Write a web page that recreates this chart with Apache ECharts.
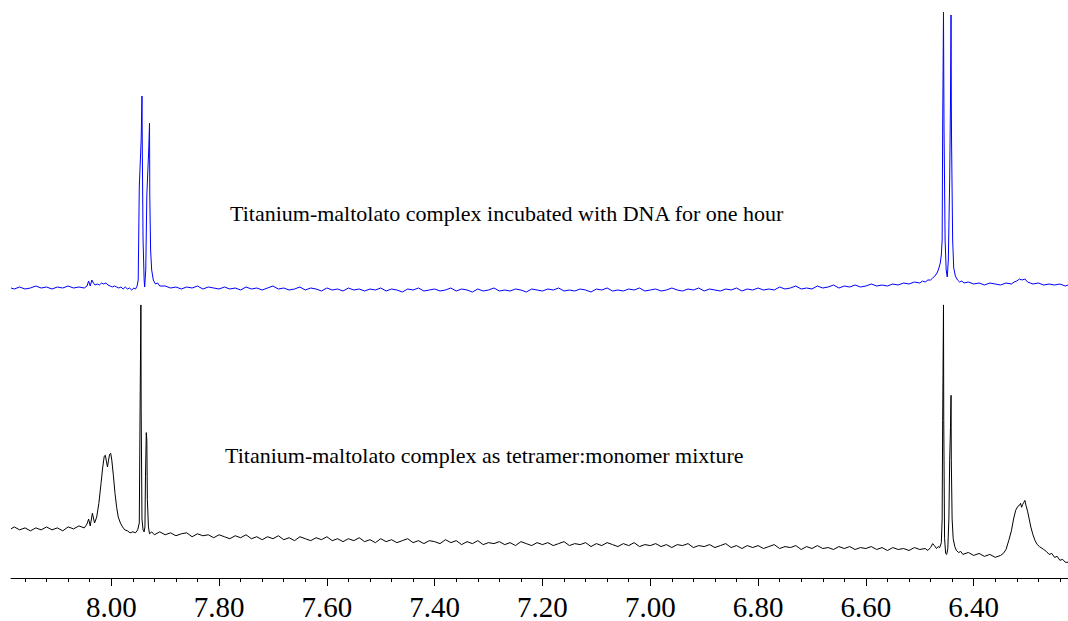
<!DOCTYPE html>
<html><head><meta charset="utf-8">
<script src="https://cdn.jsdelivr.net/npm/echarts@6/dist/echarts.min.js"></script>
<style>html,body{margin:0;padding:0;background:#fff}#c{width:1068px;height:621px}</style>
</head><body><div id="c"></div>
<script>
const xLeft = 8.186;
const xRight = 6.225;
const tickLabelValues = [8.0, 7.8, 7.6, 7.4, 7.2, 7.0, 6.8, 6.6, 6.4];
const minorTickValues = [8.16,8.12,8.08,8.04,7.96,7.92,7.88,7.84,7.76,7.72,7.68,7.64,7.56,7.52,7.48,7.44,7.36,7.32,7.28,7.24,7.16,7.12,7.08,7.04,6.96,6.92,6.88,6.84,6.76,6.72,6.68,6.64,6.56,6.52,6.48,6.44,6.36,6.32,6.28,6.24];
const blueLabel = 'Titanium-maltolato complex incubated with DNA for one hour';
const blackLabel = 'Titanium-maltolato complex as tetramer:monomer mixture';

const blueSpectrum = [
[8.186,12],[8.18,11],[8.17,13],[8.16,11],[8.15,12],[8.14,14],[8.13,12],[8.12,13],[8.11,11],[8.10,13],[8.09,12],[8.08,14],[8.07,12],[8.06,13],[8.05,12],
[8.045,14],[8.042,19],[8.039,14],[8.036,20],[8.033,17],[8.030,15],[8.026,16],[8.022,15],[8.018,17],[8.014,16],[8.010,17],[8.006,15],[8.002,14],[7.998,13],[7.994,14],[7.990,13],[7.986,12],[7.982,13],[7.978,11],[7.974,13],[7.970,11],[7.966,12],[7.962,10],[7.958,12],[7.955,11],[7.952,14],
[7.950,20],[7.948,113],[7.9445,160],[7.943,204],[7.9425,160],[7.941,60],[7.939,20],[7.938,13],[7.936,30],[7.934,105],[7.9305,150],[7.929,177],[7.9285,105],[7.927,50],[7.925,30],[7.922,20],[7.918,16],[7.914,17],[7.91,14],
[7.90,14],[7.89,12],[7.88,13],[7.87,11],[7.86,13],[7.85,12],[7.84,14],[7.83,11],[7.82,13],[7.81,12],[7.80,11],[7.79,13],[7.78,11],[7.77,12],[7.76,10],[7.75,13],[7.74,11],[7.73,12],[7.72,10],[7.71,12],
[7.70,14],[7.69,11],[7.68,12],[7.67,10],[7.66,11],[7.65,13],[7.64,10],[7.63,12],[7.62,11],[7.61,9],[7.60,12],[7.59,10],[7.58,11],[7.57,9],[7.56,12],[7.55,10],[7.54,11],[7.53,9],[7.52,11],[7.51,10],
[7.50,12],[7.49,9],[7.48,11],[7.47,10],[7.46,8],[7.45,11],[7.44,10],[7.43,12],[7.42,9],[7.41,10],[7.40,11],[7.39,9],[7.38,10],[7.37,12],[7.36,9],[7.35,11],[7.34,10],[7.33,8],[7.32,11],[7.31,9],
[7.30,10],[7.29,12],[7.28,9],[7.27,10],[7.26,9],[7.25,11],[7.24,10],[7.23,8],[7.22,11],[7.21,10],[7.20,9],[7.19,11],[7.18,10],[7.17,12],[7.16,9],[7.15,10],[7.14,9],[7.13,11],[7.12,10],[7.11,8],
[7.10,11],[7.09,10],[7.08,12],[7.07,9],[7.06,10],[7.05,9],[7.04,11],[7.03,10],[7.02,12],[7.01,9],[7.00,10],[6.99,11],[6.98,9],[6.97,10],[6.96,12],[6.95,10],[6.94,9],[6.93,11],[6.92,10],[6.91,12],
[6.90,9],[6.89,11],[6.88,10],[6.87,9],[6.86,11],[6.85,10],[6.84,12],[6.83,9],[6.82,11],[6.81,10],[6.80,12],[6.79,10],[6.78,11],[6.77,10],[6.76,13],[6.75,11],[6.74,12],[6.73,14],[6.72,11],[6.71,12],
[6.70,11],[6.69,14],[6.68,12],[6.67,13],[6.66,15],[6.65,12],[6.64,14],[6.63,13],[6.62,15],[6.61,13],[6.60,14],[6.59,16],[6.58,14],[6.57,15],[6.56,14],[6.55,16],[6.54,15],[6.53,17],[6.52,16],[6.51,18],
[6.50,17],[6.495,19],[6.49,18],[6.485,20],[6.48,20],[6.476,22],[6.472,24],[6.468,27],[6.465,31],[6.462,37],[6.460,45],[6.4585,60],[6.4575,172],[6.456,288],[6.4555,230],[6.455,172],[6.453,60],[6.451,30],[6.449,23],
[6.447,40],[6.4445,120],[6.443,200],[6.442,285],[6.4415,200],[6.441,158],[6.439,60],[6.437,32],[6.434,24],[6.430,20],[6.426,18],[6.422,19],[6.418,17],[6.41,18],[6.40,16],[6.39,17],[6.38,15],[6.37,17],[6.36,16],[6.35,15],
[6.34,17],[6.33,16],[6.325,18],[6.32,19],[6.315,21],[6.31,20],[6.305,21],[6.30,18],[6.295,17],[6.29,16],[6.28,17],[6.27,15],[6.26,16],[6.25,15],[6.24,16],[6.23,14],[6.225,15]
];

const blackSpectrum = [
[8.186,50],[8.18,52],[8.17,49],[8.16,51],[8.15,48],[8.14,51],[8.13,49],[8.12,52],[8.11,49],[8.10,51],[8.09,48],[8.08,52],[8.07,50],[8.06,53],[8.05,51],
[8.045,55],[8.042,60],[8.039,53],[8.035,66],[8.031,56],[8.027,62],[8.023,76],[8.019,96],[8.016,112],[8.013,124],[8.011,125],[8.009,119],[8.007,113],[8.005,120],[8.003,126],[8.001,127],[7.999,120],[7.996,104],[7.993,86],[7.990,72],[7.987,62],[7.983,56],[7.979,52],[7.975,49],[7.970,48],[7.965,46],[7.960,47],[7.955,46],
[7.951,49],[7.948,56],[7.9465,172],[7.945,278],[7.9445,172],[7.943,60],[7.941,49],[7.939,47],[7.9375,52],[7.9365,103],[7.935,148],[7.934,140],[7.933,80],[7.931,52],[7.929,45],[7.925,47],[7.92,44],
[7.91,47],[7.90,44],[7.89,46],[7.88,43],[7.87,45],[7.86,46],[7.85,42],[7.84,45],[7.83,43],[7.82,44],[7.81,41],[7.80,44],[7.79,42],[7.78,40],[7.77,43],[7.76,41],[7.75,44],[7.74,40],[7.73,42],[7.72,39],[7.71,42],
[7.70,40],[7.69,43],[7.68,39],[7.67,41],[7.66,38],[7.65,42],[7.64,40],[7.63,38],[7.62,41],[7.61,39],[7.60,42],[7.59,38],[7.58,40],[7.57,37],[7.56,40],[7.55,38],[7.54,41],[7.53,37],[7.52,39],[7.51,36],
[7.50,40],[7.49,37],[7.48,39],[7.47,36],[7.46,38],[7.45,40],[7.44,36],[7.43,38],[7.42,35],[7.41,38],[7.40,37],[7.39,35],[7.38,39],[7.37,36],[7.36,38],[7.35,34],[7.34,37],[7.33,35],[7.32,38],[7.31,34],
[7.30,36],[7.29,35],[7.28,37],[7.27,34],[7.26,36],[7.25,33],[7.24,37],[7.23,35],[7.22,33],[7.21,36],[7.20,34],[7.19,36],[7.18,33],[7.17,35],[7.16,37],[7.15,33],[7.14,35],[7.13,34],[7.12,36],[7.11,32],
[7.10,35],[7.09,33],[7.08,36],[7.07,34],[7.06,32],[7.05,35],[7.04,33],[7.03,36],[7.02,32],[7.01,34],[7.00,33],[6.99,35],[6.98,32],[6.97,34],[6.96,31],[6.95,34],[6.94,33],[6.93,35],[6.92,31],[6.91,33],
[6.90,32],[6.89,34],[6.88,31],[6.87,33],[6.86,35],[6.85,31],[6.84,33],[6.83,30],[6.82,33],[6.81,31],[6.80,33],[6.79,30],[6.78,32],[6.77,34],[6.76,30],[6.75,32],[6.74,31],[6.73,33],[6.72,29],[6.71,32],
[6.70,30],[6.69,33],[6.68,30],[6.67,31],[6.66,29],[6.65,32],[6.64,30],[6.63,32],[6.62,29],[6.61,31],[6.60,30],[6.59,32],[6.58,29],[6.57,31],[6.56,28],[6.55,31],[6.54,29],[6.53,30],[6.52,28],[6.51,31],
[6.50,29],[6.49,30],[6.485,28],[6.48,31],[6.476,35],[6.473,33],[6.469,30],[6.466,32],[6.463,31],[6.460,36],[6.4585,60],[6.4575,160],[6.456,278],[6.4555,160],[6.454,40],[6.452,25],[6.450,24],
[6.448,30],[6.446,60],[6.4445,120],[6.443,153],[6.442,186],[6.4415,120],[6.440,60],[6.438,40],[6.435,32],[6.432,28],[6.428,26],[6.424,27],[6.42,24],[6.41,26],[6.40,23],[6.39,25],[6.38,22],[6.37,24],[6.36,21],[6.35,23],
[6.345,25],[6.34,29],[6.335,38],[6.330,48],[6.326,60],[6.322,69],[6.318,73],[6.315,74],[6.313,76],[6.311,72],[6.309,75],[6.307,77],[6.305,79],[6.303,74],[6.300,68],[6.297,60],[6.294,52],[6.290,44],[6.286,38],[6.282,34],[6.278,32],
[6.27,29],[6.265,27],[6.26,24],[6.255,25],[6.25,21],[6.245,22],[6.24,18],[6.235,19],[6.23,16],[6.225,16]
];

const chart = echarts.init(document.getElementById('c'), null, {renderer: 'svg'});
const serif = 'Times New Roman, Liberation Serif, DejaVu Serif, serif';
chart.setOption({
  animation: false,
  backgroundColor: '#fff',
  textStyle: {fontFamily: serif},
  grid: [
    {left: 11, right: 0, top: 0, height: 300},
    {left: 11, right: 0, top: 300, bottom: 38}
  ],
  xAxis: [
    {gridIndex: 0, type: 'value', min: xRight, max: xLeft, inverse: true, show: false},
    {gridIndex: 1, type: 'value', min: xRight, max: xLeft, inverse: true, position: 'bottom',
      axisLine: {show: true, onZero: false, lineStyle: {color: '#000', width: 1}},
      axisTick: {show: true, length: 8, customValues: tickLabelValues, lineStyle: {color: '#000', width: 1}},
      axisLabel: {show: true, customValues: tickLabelValues, formatter: v => v.toFixed(2), fontFamily: serif, fontSize: 29, color: '#000', margin: 14},
      splitLine: {show: false}},
    {gridIndex: 1, type: 'value', min: xRight, max: xLeft, inverse: true, position: 'bottom',
      axisLine: {show: false, onZero: false},
      axisTick: {show: true, length: 4, customValues: minorTickValues, lineStyle: {color: '#000', width: 1}},
      axisLabel: {show: false}, splitLine: {show: false}}
  ],
  yAxis: [
    {gridIndex: 0, type: 'value', min: 0, max: 300, show: false},
    {gridIndex: 1, type: 'value', min: 0, max: 283, show: false}
  ],
  series: [
    {type: 'line', xAxisIndex: 0, yAxisIndex: 0, data: blueSpectrum, showSymbol: false, symbol: 'none',
      lineStyle: {color: '#0000ff', width: 1}, clip: false},
    {type: 'line', xAxisIndex: 1, yAxisIndex: 1, data: blackSpectrum, showSymbol: false, symbol: 'none',
      lineStyle: {color: '#000000', width: 1}, clip: false}
  ],
  graphic: [
    {type: 'text', left: 230, top: 202, style: {text: blueLabel, fontFamily: serif, fontSize: 22, fill: '#000'}},
    {type: 'text', left: 225, top: 444, style: {text: blackLabel, fontFamily: serif, fontSize: 22, fill: '#000'}}
  ]
});
</script>
</body></html>
